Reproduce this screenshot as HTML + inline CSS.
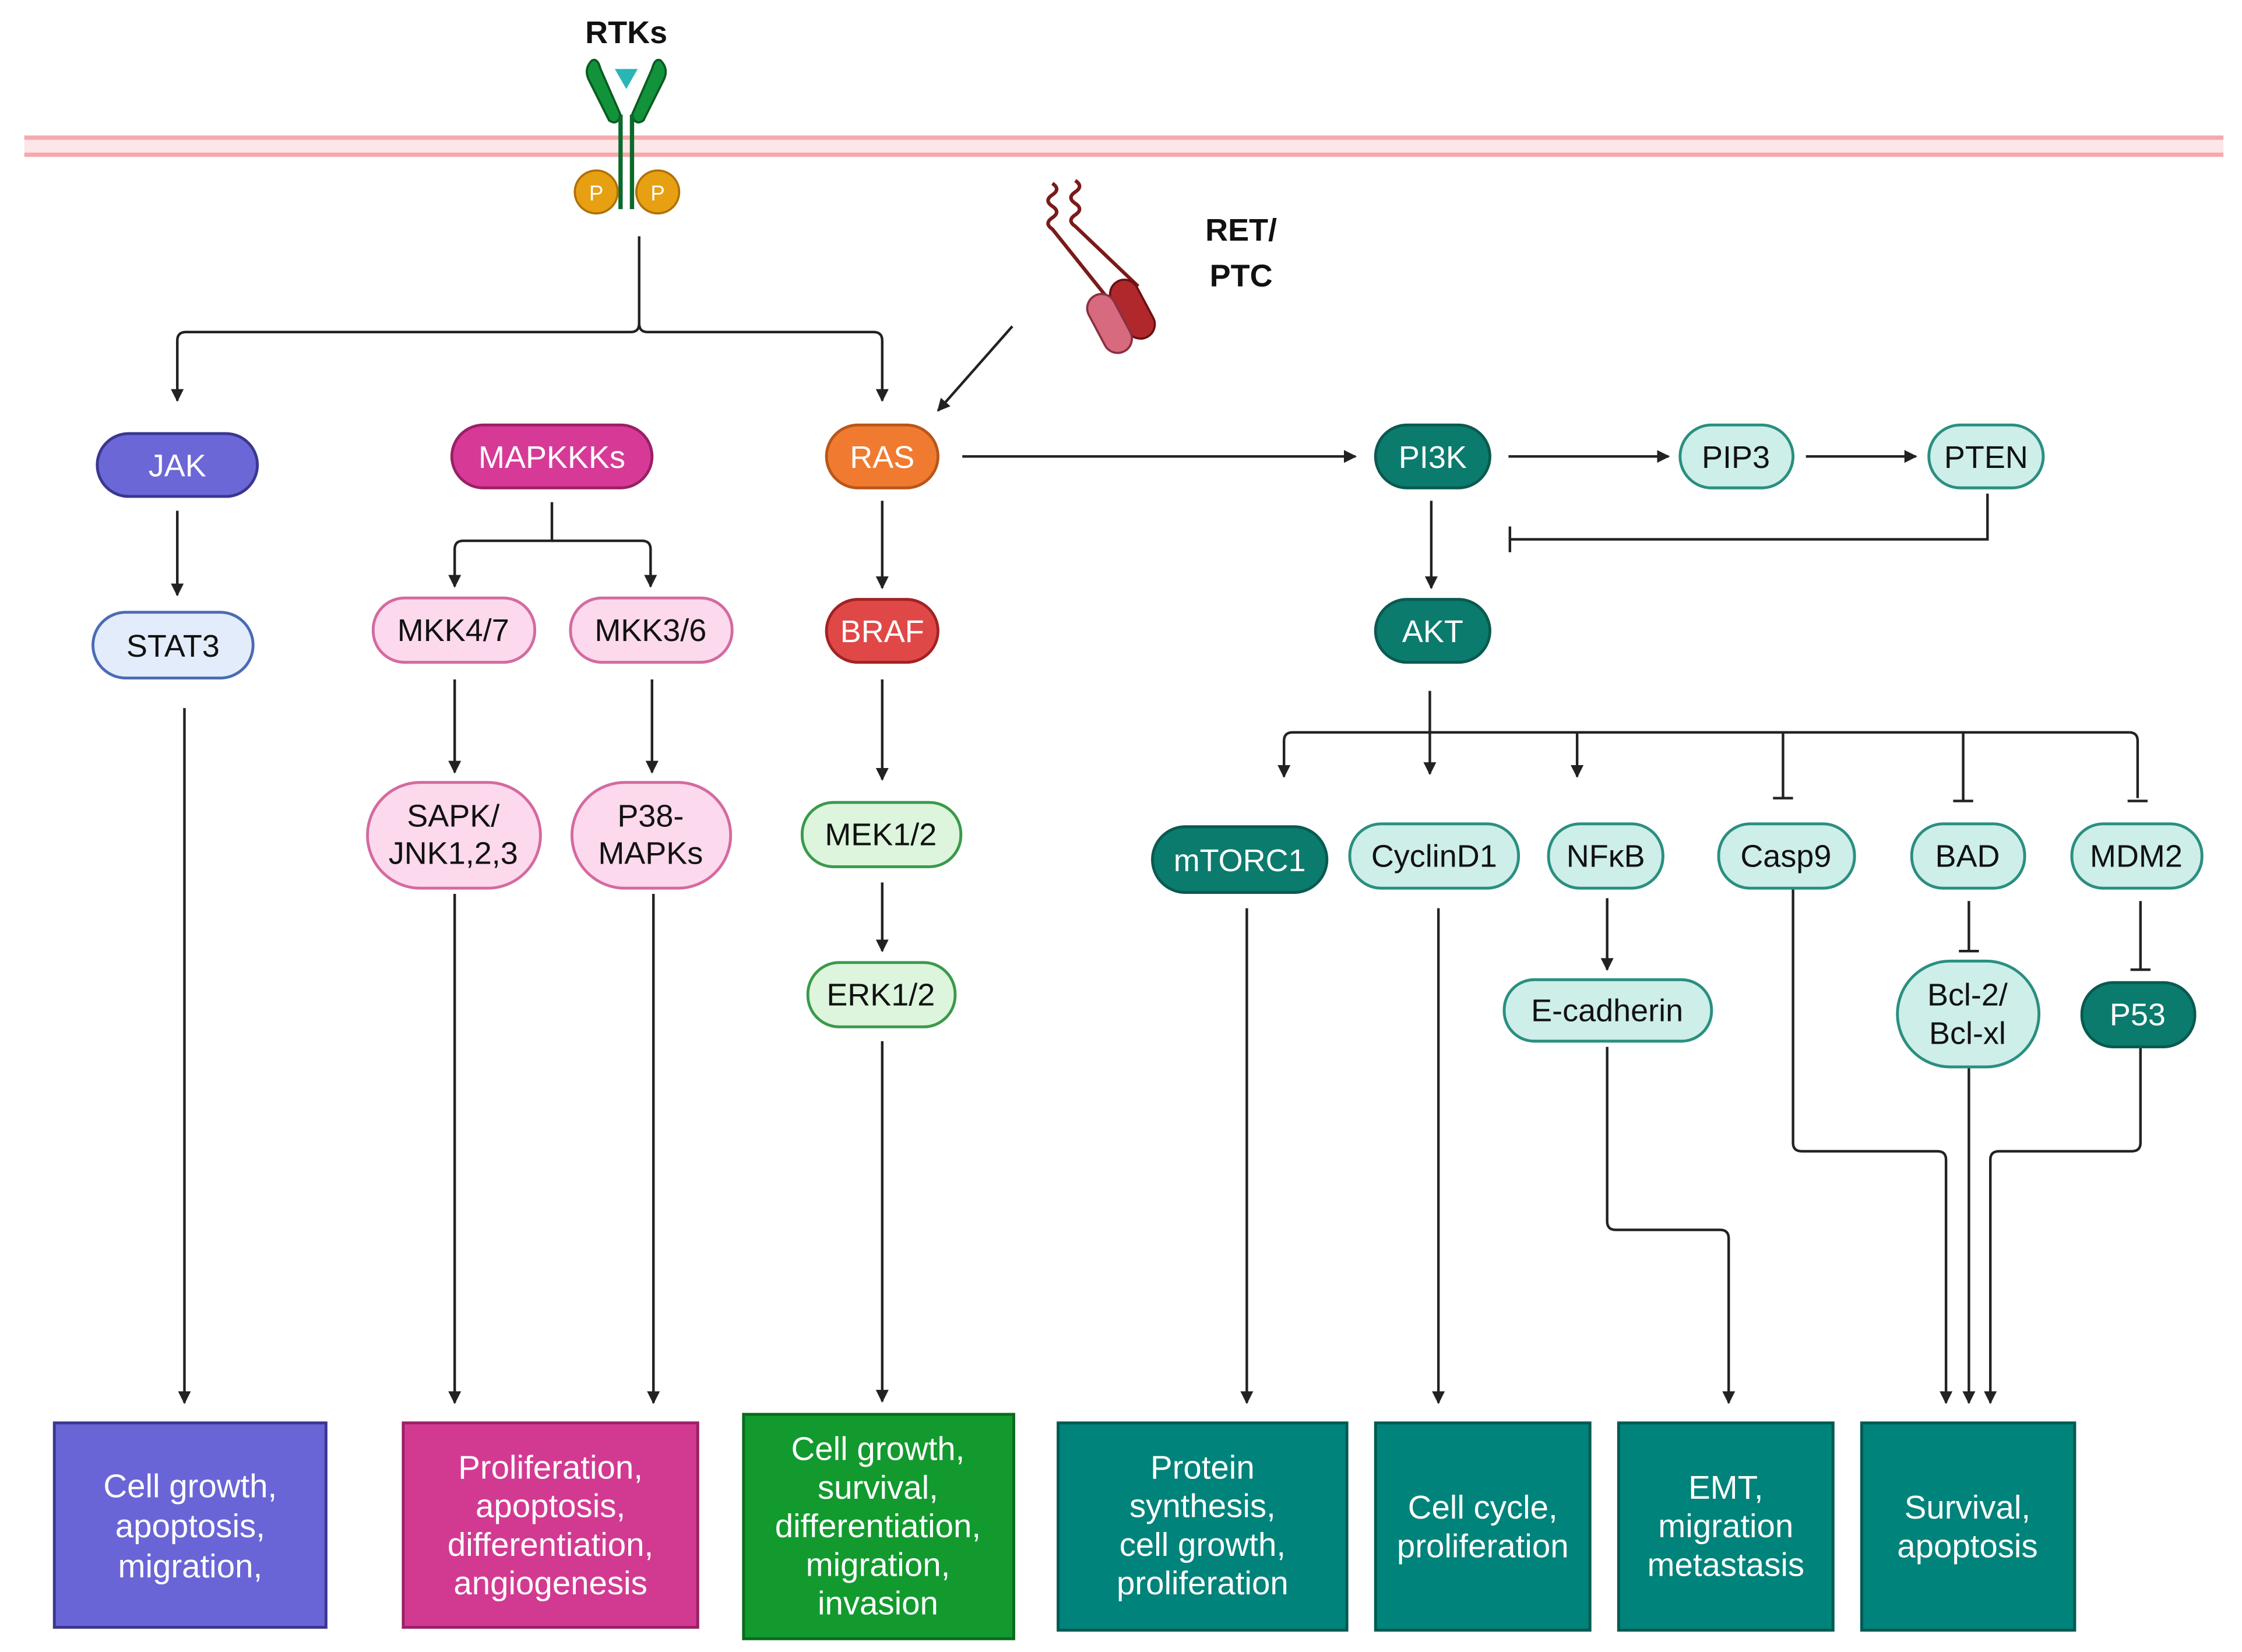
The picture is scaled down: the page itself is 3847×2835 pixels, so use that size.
<!DOCTYPE html>
<html><head><meta charset="utf-8"><style>html,body{margin:0;padding:0;background:#fff}svg{display:block}text{font-family:"Liberation Sans",sans-serif}</style></head>
<body>
<svg width="3847" height="2835" viewBox="0 0 1568 1155" xmlns="http://www.w3.org/2000/svg">
<defs>
<marker id="a" viewBox="0 0 10 10" refX="9" refY="5" markerWidth="5" markerHeight="5" orient="auto"><path d="M0,0L10,5L0,10z" fill="#222"/></marker>
</defs>
<rect width="1568" height="1155" fill="#fff"/>
<!-- membrane -->
<rect x="17" y="96" width="1538" height="12" fill="#fde6e8"/>
<line x1="17" y1="96" x2="1555" y2="96" stroke="#f6a8ad" stroke-width="3"/>
<line x1="17" y1="108" x2="1555" y2="108" stroke="#f6a8ad" stroke-width="3"/>
<!-- RTK -->
<text x="438" y="30" font-size="22" font-weight="bold" text-anchor="middle" fill="#111">RTKs</text>
<path d="M414,42 Q408,48 412,56 L426,84 Q432,88 434,80 L420,48 Q418,40 414,42z" fill="#12923a" stroke="#0a5a20" stroke-width="1.5"/>
<path d="M462,42 Q468,48 464,56 L450,84 Q444,88 442,80 L456,48 Q458,40 462,42z" fill="#12923a" stroke="#0a5a20" stroke-width="1.5"/>
<path d="M430,48 L446,48 L438,62z" fill="#2bb5b5"/>
<line x1="434" y1="80" x2="434" y2="146" stroke="#0a6a2a" stroke-width="3"/>
<line x1="442" y1="80" x2="442" y2="146" stroke="#0a6a2a" stroke-width="3"/>
<circle cx="417" cy="134" r="15" fill="#e6a012" stroke="#b07008" stroke-width="1.5"/>
<circle cx="460" cy="134" r="15" fill="#e6a012" stroke="#b07008" stroke-width="1.5"/>
<text x="417" y="140" font-size="15" text-anchor="middle" fill="#fff">P</text>
<text x="460" y="140" font-size="15" text-anchor="middle" fill="#fff">P</text>
<!-- RET/PTC -->
<path d="M736,128 q6,4 0,8 q-6,4 0,8 q6,4 0,8 q-6,4 0,8 L776,210" fill="none" stroke="#7a1a1a" stroke-width="2.5"/>
<path d="M752,126 q6,4 0,8 q-6,4 0,8 q6,4 0,8 q-6,4 0,8 L796,200" fill="none" stroke="#7a1a1a" stroke-width="2.5"/>
<rect x="782" y="194" width="20" height="44" rx="10" fill="#b0282c" stroke="#6a1010" stroke-width="1.5" transform="rotate(-28 792 216)"/>
<rect x="766" y="204" width="20" height="44" rx="10" fill="#d86a80" stroke="#8a3040" stroke-width="1.5" transform="rotate(-28 776 226)"/>
<text x="868" y="168" font-size="22" font-weight="bold" text-anchor="middle" fill="#111">RET/</text>
<text x="868" y="200" font-size="22" font-weight="bold" text-anchor="middle" fill="#111">PTC</text>
<!-- connectors -->
<g fill="none" stroke="#222" stroke-width="1.8">
<path d="M447,165 V226 Q447,232 441,232 H130 Q124,232 124,238 V280" marker-end="url(#a)"/>
<path d="M447,226 Q447,232 453,232 H611 Q617,232 617,238 V280" marker-end="url(#a)"/>
<path d="M708,228 L656,287" marker-end="url(#a)"/>
<path d="M124,357 V416" marker-end="url(#a)"/>
<path d="M386,351 V378 H324 Q318,378 318,384 V410" marker-end="url(#a)"/>
<path d="M386,378 H449 Q455,378 455,384 V410" marker-end="url(#a)"/>
<path d="M318,475 V540" marker-end="url(#a)"/>
<path d="M456,475 V540" marker-end="url(#a)"/>
<path d="M617,350 V411" marker-end="url(#a)"/>
<path d="M617,475 V545" marker-end="url(#a)"/>
<path d="M617,617 V665" marker-end="url(#a)"/>
<path d="M617,728 V980" marker-end="url(#a)"/>
<path d="M673,319 H948" marker-end="url(#a)"/>
<path d="M1055,319 H1167" marker-end="url(#a)"/>
<path d="M1263,319 H1340" marker-end="url(#a)"/>
<path d="M1390,345 V377 H1056"/>
<path d="M1056,368 V386"/>
<path d="M1001,350 V411" marker-end="url(#a)"/>
<path d="M1000,483 V512"/>
<path d="M1489,512 H904 Q898,512 898,518 V543" marker-end="url(#a)"/>
<path d="M1489,512 Q1495,512 1495,518 V558"/>
<path d="M1000,512 V541" marker-end="url(#a)"/>
<path d="M1103,512 V543" marker-end="url(#a)"/>
<path d="M1247,512 V558"/><path d="M1240,558 H1254"/>
<path d="M1373,512 V560"/><path d="M1366,560 H1380"/>
<path d="M1488,560 H1502"/>
<path d="M129,495 V981" marker-end="url(#a)"/>
<path d="M318,625 V981" marker-end="url(#a)"/>
<path d="M457,625 V981" marker-end="url(#a)"/>
<path d="M872,635 V981" marker-end="url(#a)"/>
<path d="M1006,635 V981" marker-end="url(#a)"/>
<path d="M1124,628 V678" marker-end="url(#a)"/>
<path d="M1124,732 V854 Q1124,860 1130,860 H1203 Q1209,860 1209,866 V981" marker-end="url(#a)"/>
<path d="M1254,620 V799 Q1254,805 1260,805 H1355 Q1361,805 1361,811 V981" marker-end="url(#a)"/>
<path d="M1377,746 V981" marker-end="url(#a)"/>
<path d="M1497,732 V799 Q1497,805 1491,805 H1398 Q1392,805 1392,811 V981" marker-end="url(#a)"/>
<path d="M1377,630 V665"/><path d="M1370,665 H1384"/>
<path d="M1497,630 V678"/><path d="M1490,678 H1504"/>
</g>
<!-- nodes -->
<g font-size="22" text-anchor="middle" stroke-width="2">
<rect x="68" y="303" width="112" height="44" rx="22" fill="#6b67d6" stroke="#3a3790"/><text x="124" y="333" fill="#fff" stroke="none">JAK</text>
<rect x="65" y="428" width="112" height="46" rx="23" fill="#e3ecfa" stroke="#4a6bb5"/><text x="121" y="459" fill="#111" stroke="none">STAT3</text>
<rect x="316" y="297" width="140" height="44" rx="22" fill="#d63a96" stroke="#9a2066"/><text x="386" y="327" fill="#fff" stroke="none">MAPKKKs</text>
<rect x="261" y="418" width="113" height="45" rx="22" fill="#fcd9ec" stroke="#d46aa0"/><text x="317" y="448" fill="#111" stroke="none">MKK4/7</text>
<rect x="399" y="418" width="113" height="45" rx="22" fill="#fcd9ec" stroke="#d46aa0"/><text x="455" y="448" fill="#111" stroke="none">MKK3/6</text>
<rect x="257" y="547" width="121" height="74" rx="37" fill="#fcd9ec" stroke="#d46aa0"/><text x="317" y="578" fill="#111" stroke="none">SAPK/</text><text x="317" y="604" fill="#111" stroke="none">JNK1,2,3</text>
<rect x="400" y="547" width="111" height="74" rx="37" fill="#fcd9ec" stroke="#d46aa0"/><text x="455" y="578" fill="#111" stroke="none">P38-</text><text x="455" y="604" fill="#111" stroke="none">MAPKs</text>
<rect x="578" y="297" width="78" height="44" rx="22" fill="#f07b30" stroke="#b8561a"/><text x="617" y="327" fill="#fff" stroke="none">RAS</text>
<rect x="578" y="419" width="78" height="44" rx="22" fill="#e04848" stroke="#a02424"/><text x="617" y="449" fill="#fff" stroke="none">BRAF</text>
<rect x="561" y="561" width="111" height="45" rx="22" fill="#dcf5dc" stroke="#3a9a4a"/><text x="616" y="591" fill="#111" stroke="none">MEK1/2</text>
<rect x="565" y="673" width="103" height="45" rx="22" fill="#dcf5dc" stroke="#3a9a4a"/><text x="616" y="703" fill="#111" stroke="none">ERK1/2</text>
<rect x="962" y="297" width="80" height="44" rx="22" fill="#0b7b6e" stroke="#0a5a50"/><text x="1002" y="327" fill="#fff" stroke="none">PI3K</text>
<rect x="1175" y="297" width="79" height="44" rx="22" fill="#cdeee9" stroke="#2a8f80"/><text x="1214" y="327" fill="#111" stroke="none">PIP3</text>
<rect x="1349" y="297" width="80" height="44" rx="22" fill="#cdeee9" stroke="#2a8f80"/><text x="1389" y="327" fill="#111" stroke="none">PTEN</text>
<rect x="962" y="419" width="80" height="44" rx="22" fill="#0b7b6e" stroke="#0a5a50"/><text x="1002" y="449" fill="#fff" stroke="none">AKT</text>
<rect x="806" y="578" width="122" height="46" rx="23" fill="#0b7b6e" stroke="#0a5a50"/><text x="867" y="609" fill="#fff" stroke="none">mTORC1</text>
<rect x="944" y="576" width="118" height="45" rx="22" fill="#cdeee9" stroke="#2a8f80"/><text x="1003" y="606" fill="#111" stroke="none">CyclinD1</text>
<rect x="1083" y="576" width="80" height="45" rx="22" fill="#cdeee9" stroke="#2a8f80"/><text x="1123" y="606" fill="#111" stroke="none">NFκB</text>
<rect x="1202" y="576" width="95" height="45" rx="22" fill="#cdeee9" stroke="#2a8f80"/><text x="1249" y="606" fill="#111" stroke="none">Casp9</text>
<rect x="1337" y="576" width="79" height="45" rx="22" fill="#cdeee9" stroke="#2a8f80"/><text x="1376" y="606" fill="#111" stroke="none">BAD</text>
<rect x="1449" y="576" width="91" height="45" rx="22" fill="#cdeee9" stroke="#2a8f80"/><text x="1494" y="606" fill="#111" stroke="none">MDM2</text>
<rect x="1052" y="685" width="145" height="43" rx="21" fill="#cdeee9" stroke="#2a8f80"/><text x="1124" y="714" fill="#111" stroke="none">E-cadherin</text>
<rect x="1327" y="672" width="99" height="74" rx="37" fill="#cdeee9" stroke="#2a8f80"/><text x="1376" y="703" fill="#111" stroke="none">Bcl-2/</text><text x="1376" y="730" fill="#111" stroke="none">Bcl-xl</text>
<rect x="1456" y="687" width="79" height="45" rx="22" fill="#0b7b6e" stroke="#0a5a50"/><text x="1495" y="717" fill="#fff" stroke="none">P53</text>
</g>
<!-- outcome boxes -->
<g font-size="23" text-anchor="middle" fill="#fff" stroke-width="2">
<rect x="38" y="995" width="190" height="143" fill="#6a65d6" stroke="#3a3790"/>
<text x="133" y="1047">Cell growth,</text><text x="133" y="1075">apoptosis,</text><text x="133" y="1103">migration,</text>
<rect x="282" y="995" width="206" height="143" fill="#d23a92" stroke="#9a2066"/>
<text x="385" y="1034">Proliferation,</text><text x="385" y="1061">apoptosis,</text><text x="385" y="1088">differentiation,</text><text x="385" y="1115">angiogenesis</text>
<rect x="520" y="989" width="189" height="157" fill="#129a2e" stroke="#0a6a1e"/>
<text x="614" y="1021">Cell growth,</text><text x="614" y="1048">survival,</text><text x="614" y="1075">differentiation,</text><text x="614" y="1102">migration,</text><text x="614" y="1129">invasion</text>
<rect x="740" y="995" width="202" height="145" fill="#00837a" stroke="#005a52"/>
<text x="841" y="1034">Protein</text><text x="841" y="1061">synthesis,</text><text x="841" y="1088">cell growth,</text><text x="841" y="1115">proliferation</text>
<rect x="962" y="995" width="150" height="145" fill="#00837a" stroke="#005a52"/>
<text x="1037" y="1062">Cell cycle,</text><text x="1037" y="1089">proliferation</text>
<rect x="1132" y="995" width="150" height="145" fill="#00837a" stroke="#005a52"/>
<text x="1207" y="1048">EMT,</text><text x="1207" y="1075">migration</text><text x="1207" y="1102">metastasis</text>
<rect x="1302" y="995" width="149" height="145" fill="#00837a" stroke="#005a52"/>
<text x="1376" y="1062">Survival,</text><text x="1376" y="1089">apoptosis</text>
</g>
</svg>
</body></html>
